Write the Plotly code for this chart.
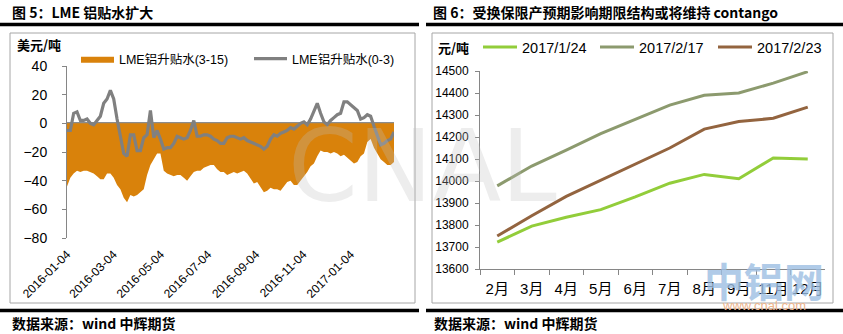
import pandas as pd
import plotly.graph_objects as go

W, H = 843, 334

# ---------------- data: left chart (LME aluminium spreads, USD/t) ----------------
START_DATE = "2016-01-04"
END_DATE = "2017-03-01"
SPREAD_3_15 = [
    -44, -38, -35, -33, -34, -33, -33, -34, -35, -37,
    -39, -39, -35, -35, -38, -43, -46, -52, -55, -50,
    -51, -50, -48, -46, -36, -29, -25, -21, -21, -33,
    -35, -36, -37, -36, -36, -38, -40, -37, -34, -33,
    -33, -31, -30, -29, -29, -32, -34, -34, -36, -35,
    -34, -35, -34, -33, -35, -39, -42, -41, -45, -48,
    -47, -45, -46, -46, -47, -44, -41, -40, -43, -43,
    -40, -37, -34, -30, -28, -23, -19, -20, -20, -21,
    -20, -21, -23, -22, -24, -26, -28, -27, -23, -21,
    -13, -11, -17, -21, -25, -27, -29, -29, -27,
]
SPREAD_0_3 = [
    -5, -5, 7, 8, 2, 2, 3, 0, -1, 2,
    5, 14, 17, 23, 17, 3, -10, -21, -23, -8,
    -8, -19, -19, -10, -8, 9, -10, -5, -11, -18,
    -17, -17, -14, -9, -10, -11, -10, -5, 2, -9,
    -9, -8, -8, -9, -11, -12, -14, -14, -10, -9,
    -9, -10, -11, -10, -12, -13, -14, -15, -16, -18,
    -16, -11, -8, -9, -7, -6, -5, -3, -4, -2,
    0, 1, -1, 3, 9, 14, 7, 1, -1, 2,
    4, 6, 7, 15, 15, 13, 11, 9, 3, 4,
    6, 5, -2, -9, -15, -14, -12, -11, -6,
]
LEFT_TICK_DATES = ["2016-01-04", "2016-03-04", "2016-05-04", "2016-07-04",
                   "2016-09-04", "2016-11-04", "2017-01-04"]
LEFT_NAMES = ["LME铝升贴水(3-15)", "LME铝升贴水(0-3)"]

# ---------------- data: right chart (SHFE aluminium curve, CNY/t) ----------------
MONTHS = ["2月", "3月", "4月", "5月", "6月", "7月", "8月", "9月", "11月", "12月"]
CURVE_0124 = [13722, 13795, 13835, 13870, 13928, 13990, 14030, 14010, 14105, 14100]
CURVE_0217 = [13978, 14068, 14140, 14215, 14280, 14345, 14390, 14400, 14445, 14497]
CURVE_0223 = [13750, 13842, 13930, 14004, 14078, 14150, 14236, 14270, 14285, 14336]
RIGHT_NAMES = ["2017/1/24", "2017/2/17", "2017/2/23"]

dates = pd.date_range(START_DATE, END_DATE, periods=len(SPREAD_3_15))

FONT = "Liberation Sans, Noto Sans CJK SC, sans-serif"
CJK_BOLD = "Noto Sans CJK SC, sans-serif"
AX = "#868686"

fig = go.Figure()
fig.add_trace(go.Scatter(
    x=dates, y=SPREAD_3_15, name=LEFT_NAMES[0], mode="lines",
    line=dict(width=0, color="#D9820B"), fill="tozeroy", fillcolor="#D9820B",
    xaxis="x", yaxis="y", legend="legend", showlegend=True))
fig.add_trace(go.Scatter(
    x=dates, y=SPREAD_0_3, name=LEFT_NAMES[1], mode="lines",
    line=dict(width=3.2, color="#808080"),
    xaxis="x", yaxis="y", legend="legend2", showlegend=True))

for i, (name, vals, col) in enumerate(zip(RIGHT_NAMES, [CURVE_0124, CURVE_0217, CURVE_0223],
                                          ["#92CD3A", "#8C9A6E", "#93643F"])):
    fig.add_trace(go.Scatter(
        x=MONTHS, y=vals, name=name, mode="lines",
        line=dict(width=3, color=col),
        xaxis="x2", yaxis="y2", legend=f"legend{i + 3}", showlegend=True))

def px_x(p):
    return p / W

def px_y(p):
    return 1 - p / H

def leg(x, y, size, iw):
    return dict(orientation="h", x=px_x(x), y=px_y(y), xanchor="left",
                yanchor="middle", bgcolor="rgba(0,0,0,0)", itemwidth=iw,
                font=dict(size=size), visible=True)

fig.update_layout(
    width=W, height=H, margin=dict(l=0, r=0, t=0, b=0, autoexpand=False),
    paper_bgcolor="white", plot_bgcolor="rgba(0,0,0,0)", showlegend=True,
    font=dict(family=FONT, color="black"),
    xaxis=dict(domain=[px_x(67), px_x(394)], type="date",
               range=[START_DATE, END_DATE], anchor="y", automargin=False,
               tickvals=LEFT_TICK_DATES, ticktext=LEFT_TICK_DATES,
               tickangle=-45, ticks="", showline=False, showgrid=False,
               zeroline=False, tickfont=dict(size=12), ticklabelstandoff=6),
    yaxis=dict(domain=[px_y(238), px_y(66)], range=[-80, 40], dtick=20,
               anchor="x", automargin=False, showline=True, linecolor=AX,
               ticks="outside", ticklen=4, tickcolor=AX, showgrid=False,
               zeroline=True, zerolinecolor="#8C8C8C", zerolinewidth=2,
               tickfont=dict(size=14), ticklabelstandoff=12),
    xaxis2=dict(domain=[px_x(480), px_x(825)], type="category",
                categoryorder="array", categoryarray=MONTHS,
                range=[-0.5, len(MONTHS) - 0.5], anchor="y2", automargin=False,
                showline=True, linecolor=AX, ticks="outside", tickson="boundaries",
                ticklen=5, tickcolor=AX, showgrid=False, zeroline=False,
                tickangle=0, tickfont=dict(size=15), ticklabelstandoff=6),
    yaxis2=dict(domain=[px_y(269), px_y(71)], range=[13600, 14500], dtick=100,
                anchor="x2", automargin=False, showline=True, linecolor=AX,
                ticks="outside", tickformat="d",
                ticklen=4, tickcolor=AX, showgrid=False, zeroline=False,
                tickfont=dict(size=12), ticklabelstandoff=4),
    legend=leg(76, 59, 12.5, 33),
    legend2=leg(249, 59, 12.5, 33),
    legend3=leg(478, 47, 14.5, 34),
    legend4=leg(595, 47, 14.5, 34),
    legend5=leg(713, 47, 14.5, 34),
)

shapes = [
    dict(type="rect", xref="paper", yref="paper", x0=px_x(10), x1=px_x(415),
         y0=px_y(303), y1=px_y(33), line=dict(color="#A6A6A6", width=1)),
    dict(type="rect", xref="paper", yref="paper", x0=px_x(432), x1=px_x(833),
         y0=px_y(303), y1=px_y(33), line=dict(color="#A6A6A6", width=1)),
]
for x0, x1 in [(0, 419), (426, 843)]:
    for yy in (24.5, 310.5):
        shapes.append(dict(type="line", xref="paper", yref="paper",
                           x0=px_x(x0), x1=px_x(x1), y0=px_y(yy), y1=px_y(yy),
                           line=dict(color="black", width=3.5)))
fig.update_layout(shapes=shapes)

ann = []
def text(x, y, s, size, bold=False, color="black", family=CJK_BOLD, xanchor="left", opacity=1):
    ann.append(dict(xref="paper", yref="paper", x=px_x(x), y=px_y(y), text=s,
                    showarrow=False, xanchor=xanchor, yanchor="middle",
                    font=dict(size=size, color=color, family=family,
                              weight="bold" if bold else "normal"),
                    opacity=opacity))

text(10, 12, "图 5：LME 铝贴水扩大", 14, bold=True)
text(431, 12, "图 6：受换保限产预期影响期限结构或将维持 contango", 14, bold=True)
text(10, 323, "数据来源：wind 中辉期货", 14, bold=True)
text(432, 323, "数据来源：wind 中辉期货", 14, bold=True)
text(15, 44, "美元/吨", 13, bold=True)
text(436, 47, "元/吨", 13, bold=True)
# watermarks
text(422, 166, "CNAL", 100, color="#BFBFBF", family="DejaVu Sans, sans-serif",
     xanchor="center", opacity=0.28)
text(764, 280, "中铝网", 40, bold=True, color="#9DBFE3", xanchor="center", opacity=0.8)
text(764, 305, "www.cnal.com", 13, color="#EDB48C", family=FONT, xanchor="center")
fig.update_layout(annotations=ann)

fig.write_html("out.html")
